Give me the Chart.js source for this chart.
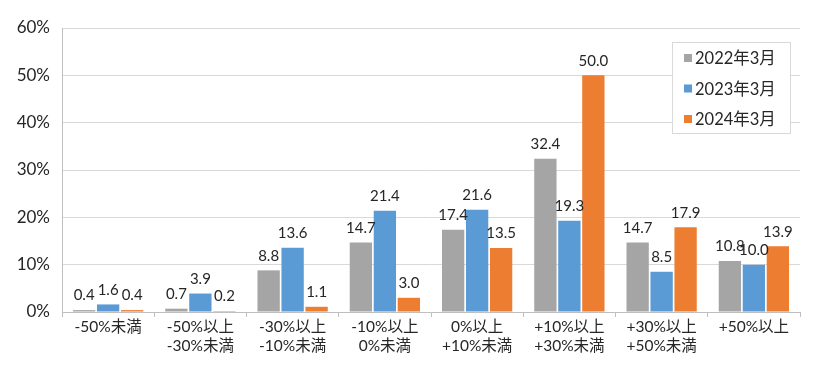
<!DOCTYPE html>
<html>
<head>
<meta charset="utf-8">
<script src="https://cdn.jsdelivr.net/npm/chart.js@4.4.1/dist/chart.umd.min.js"></script>
<style>
  html, body { margin: 0; padding: 0; background: #fff; }
  #wrap { width: 824px; height: 376px; }
</style>
</head>
<body>
<div id="wrap"><canvas id="myChart" width="824" height="376"></canvas></div>
<script>
// categories and series
const categories = [
    ['-50%未満'],
    ['-50%以上', '-30%未満'],
    ['-30%以上', '-10%未満'],
    ['-10%以上', '0%未満'],
    ['0%以上', '+10%未満'],
    ['+10%以上', '+30%未満'],
    ['+30%以上', '+50%未満'],
    ['+50%以上']
];
const seriesNames = ['2022年3月', '2023年3月', '2024年3月'];
const values2022 = [0.4, 0.7, 8.8, 14.7, 17.4, 32.4, 14.7, 10.8];
const values2023 = [1.6, 3.9, 13.6, 21.4, 21.6, 19.3, 8.5, 10.0];
const values2024 = [0.4, 0.2, 1.1, 3.0, 13.5, 50.0, 17.9, 13.9];
const yTicks = [0, 10, 20, 30, 40, 50, 60];

const colors = ['#A5A5A5', '#5B9BD5', '#ED7D31'];
const fontFamily = 'Lato, "Noto Sans CJK JP", sans-serif';
const textColor = '#262626';

// value labels above each bar
const barLabels = {
    id: 'barLabels',
    afterDatasetsDraw(chart) {
        const ctx = chart.ctx;
        ctx.save();
        ctx.font = '15px ' + fontFamily;
        ctx.fillStyle = textColor;
        ctx.textAlign = 'center';
        ctx.textBaseline = 'bottom';
        chart.data.datasets.forEach((ds, i) => {
            chart.getDatasetMeta(i).data.forEach((bar, j) => {
                ctx.fillText(ds.data[j].toFixed(1), bar.x, bar.y - 7);
            });
        });
        ctx.restore();
    }
};

// boxed legend inside the plot, top right
const boxLegend = {
    id: 'boxLegend',
    afterDraw(chart) {
        const ctx = chart.ctx;
        const x = 672, y = 42, w = 118, h = 91;
        ctx.save();
        ctx.fillStyle = '#fff';
        ctx.fillRect(x, y, w, h);
        ctx.strokeStyle = '#D9D9D9';
        ctx.lineWidth = 1;
        ctx.strokeRect(x + 0.5, y + 0.5, w, h);
        ctx.font = '16.5px ' + fontFamily;
        ctx.textBaseline = 'middle';
        ctx.textAlign = 'left';
        chart.data.datasets.forEach((ds, i) => {
            const cy = 58 + i * 30.5;
            ctx.fillStyle = ds.backgroundColor;
            ctx.fillRect(684, cy - 4, 8, 8);
            ctx.fillStyle = textColor;
            ctx.fillText(ds.label, 695, cy + 1);
        });
        ctx.restore();
    }
};

document.addEventListener('DOMContentLoaded', function () {
    const ctx = document.getElementById('myChart').getContext('2d');
    const allValues = [values2022, values2023, values2024];

    new Chart(ctx, {
        type: 'bar',
        data: {
            labels: categories,
            datasets: seriesNames.map((name, i) => ({
                label: name,
                data: allValues[i],
                backgroundColor: colors[i],
                categoryPercentage: 0.78,
                barPercentage: 0.93
            }))
        },
        options: {
            responsive: false,
            animation: false,
            layout: { padding: { top: 28, right: 24, left: 0, bottom: 0 } },
            plugins: {
                legend: { display: false },
                tooltip: { enabled: false }
            },
            scales: {
                x: {
                    grid: {
                        offset: true,
                        drawOnChartArea: false,
                        tickLength: 5,
                        color: '#BFBFBF'
                    },
                    border: { color: '#BFBFBF', width: 1 },
                    ticks: {
                        color: textColor,
                        font: { family: fontFamily, size: 15.5 },
                        padding: 1,
                        maxRotation: 0,
                        autoSkip: false
                    },
                    afterFit(scale) { scale.height = 64; }
                },
                y: {
                    min: 0,
                    max: 60,
                    afterBuildTicks(scale) {
                        scale.ticks = yTicks.map(v => ({ value: v }));
                    },
                    grid: { color: '#D9D9D9', drawTicks: false },
                    border: { color: '#BFBFBF', width: 1 },
                    ticks: {
                        color: textColor,
                        font: { family: fontFamily, size: 17 },
                        padding: 12,
                        callback: v => v + '%'
                    },
                    afterFit(scale) { scale.width = 62; }
                }
            }
        },
        plugins: [barLabels, boxLegend]
    });
});
</script>
</body>
</html>
